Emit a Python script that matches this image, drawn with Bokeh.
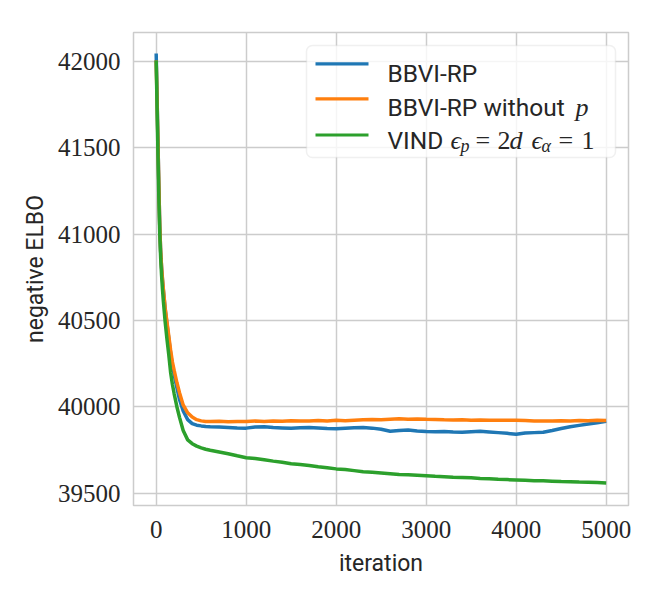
from bokeh.plotting import figure
from bokeh.models import Range1d, FixedTicker, BoxAnnotation, Label, BasicTickFormatter
from bokeh.embed import file_html
from bokeh.resources import INLINE

# ---------------- data ----------------
iters = [0, 10, 20, 30, 40, 50, 60, 70, 80, 100, 120, 140, 160, 180, 200, 230, 260,
         300, 350, 400, 450, 500, 550, 600, 700, 800, 900, 1000, 1100, 1200, 1300,
         1400, 1500, 1600, 1700, 1800, 1900, 2000, 2100, 2200, 2300, 2400, 2500,
         2600, 2700, 2800, 2900, 3000, 3100, 3200, 3300, 3400, 3500, 3600, 3700,
         3800, 3900, 4000, 4100, 4200, 4300, 4400, 4500, 4600, 4700, 4800, 4900, 5000]

bbvi_rp = [42045, 41790, 41530, 41275, 41040, 40895, 40805, 40735, 40675, 40565, 40480,
           40395, 40310, 40240, 40185, 40110, 40040, 39975, 39925, 39902, 39893, 39889,
           39886, 39884, 39882, 39880, 39877, 39876, 39882, 39884, 39879, 39877, 39875,
           39878, 39880, 39877, 39874, 39872, 39876, 39878, 39879, 39876, 39870, 39858,
           39862, 39865, 39860, 39856, 39855, 39857, 39854, 39852, 39855, 39858, 39854,
           39850, 39846, 39840, 39848, 39850, 39852, 39862, 39874, 39884, 39892, 39900,
           39907, 39916]

bbvi_rp_no_p = [42005, 41770, 41520, 41270, 41040, 40900, 40810, 40740, 40680, 40570, 40490,
                40410, 40330, 40260, 40210, 40140, 40080, 40010, 39965, 39940, 39925, 39918,
                39915, 39914, 39916, 39913, 39915, 39914, 39917, 39915, 39918, 39916, 39919,
                39918, 39917, 39920, 39918, 39921, 39919, 39922, 39924, 39926, 39925, 39928,
                39930, 39928, 39929, 39927, 39926, 39924, 39923, 39924, 39922, 39923, 39921,
                39922, 39921, 39922, 39920, 39918, 39917, 39918, 39919, 39918, 39920, 39919,
                39921, 39920]

vind = [42005, 41730, 41460, 41200, 41000, 40860, 40760, 40680, 40610, 40490, 40390,
        40300, 40200, 40130, 40075, 40000, 39937, 39862, 39808, 39786, 39772, 39762,
        39754, 39748, 39738, 39728, 39716, 39705, 39700, 39693, 39685, 39678, 39670,
        39665, 39660, 39652, 39647, 39640, 39636, 39630, 39624, 39620, 39616, 39612,
        39608, 39606, 39603, 39600, 39597, 39595, 39592, 39590, 39588, 39585, 39583,
        39580, 39578, 39576, 39574, 39572, 39571, 39569, 39567, 39566, 39564, 39563,
        39561, 39559]

x_ticks = [0, 1000, 2000, 3000, 4000, 5000]
y_ticks = [39500, 40000, 40500, 41000, 41500, 42000]

# ---------------- figure ----------------
TEXT = "#262626"
GRID = "#cccccc"
SANS = "Roboto"
SERIF = "Liberation Serif"

p = figure(width=660, height=600, output_backend="svg", toolbar_location=None,
           x_range=Range1d(-252, 5248), y_range=Range1d(39428, 42167),
           min_border_left=133, min_border_right=32, min_border_top=32,
           min_border_bottom=95)
p.background_fill_color = "white"
p.border_fill_color = "white"
p.outline_line_color = GRID
p.outline_line_width = 1.5

p.xaxis.ticker = FixedTicker(ticks=x_ticks)
p.yaxis.ticker = FixedTicker(ticks=y_ticks)
for ax in (p.xaxis, p.yaxis):
    ax.formatter = BasicTickFormatter(use_scientific=False)
    ax.axis_line_color = None
    ax.major_tick_line_color = None
    ax.minor_tick_line_color = None
    ax.major_tick_out = 0
    ax.major_tick_in = 0
    ax.major_label_text_font = SERIF
    ax.major_label_text_font_size = "25px"
    ax.major_label_text_color = TEXT
    ax.axis_label_text_font = SANS
    ax.axis_label_text_font_size = "23px"
    ax.axis_label_text_font_style = "normal"
    ax.axis_label_text_color = TEXT
p.xaxis.major_label_standoff = 15
p.yaxis.major_label_standoff = 13
p.xaxis.axis_label = "iteration"
p.yaxis.axis_label = "negative ELBO"
p.xaxis.axis_label_standoff = 9
p.yaxis.axis_label_standoff = 6

p.xgrid.grid_line_color = GRID
p.ygrid.grid_line_color = GRID
p.xgrid.grid_line_width = 1.5
p.ygrid.grid_line_width = 1.5

p.line(iters, bbvi_rp, line_color="#1f77b4", line_width=3.5)
p.line(iters, bbvi_rp_no_p, line_color="#ff7f0e", line_width=3.5)
p.line(iters, vind, line_color="#2ca02c", line_width=3.5)

# ---------------- legend (built by hand, screen units from frame bottom-left) ----
scr = dict(left_units="screen", right_units="screen", top_units="screen", bottom_units="screen")
p.add_layout(BoxAnnotation(left=173, right=482, bottom=348, top=460, fill_color="white",
                           fill_alpha=0.8, line_color=GRID, line_width=1.5,
                           border_radius=6, **scr))
for yc, col in ((441.7, "#1f77b4"), (406.7, "#ff7f0e"), (370.5, "#2ca02c")):
    p.add_layout(BoxAnnotation(left=182, right=235, bottom=yc - 1.6, top=yc + 1.6,
                               fill_color=col, fill_alpha=1, line_color=None, **scr))


def lab(x, y, text, font=SANS, size="24.5px", style="normal"):
    p.add_layout(Label(x=x, y=y, x_units="screen", y_units="screen", text=text,
                       text_font=font, text_font_size=size, text_font_style=style,
                       text_color=TEXT, text_baseline="alphabetic", text_align="left"))


r1, r2, r3 = 432.3, 398.3, 365.0
lab(254, r1, "BBVI-RP")
lab(254, r2, "BBVI-RP without")
lab(442, r2, "p", SERIF, "26px", "italic")
lab(254, r3, "VIND")
lab(317, r3, "ϵ", SERIF, "26px", "italic")
lab(327, r3 - 5.5, "p", SERIF, "18px", "italic")
lab(342, r3, "=", SERIF, "26px")
lab(364, r3, "2", SERIF, "26px")
lab(376, r3, "d", SERIF, "26px", "italic")
lab(398, r3, "ϵ", SERIF, "26px", "italic")
lab(408, r3 - 5.5, "α", SERIF, "18px", "italic")
lab(425, r3, "=", SERIF, "26px")
lab(448, r3, "1", SERIF, "26px")

open("out.html", "w").write(file_html(p, INLINE))
